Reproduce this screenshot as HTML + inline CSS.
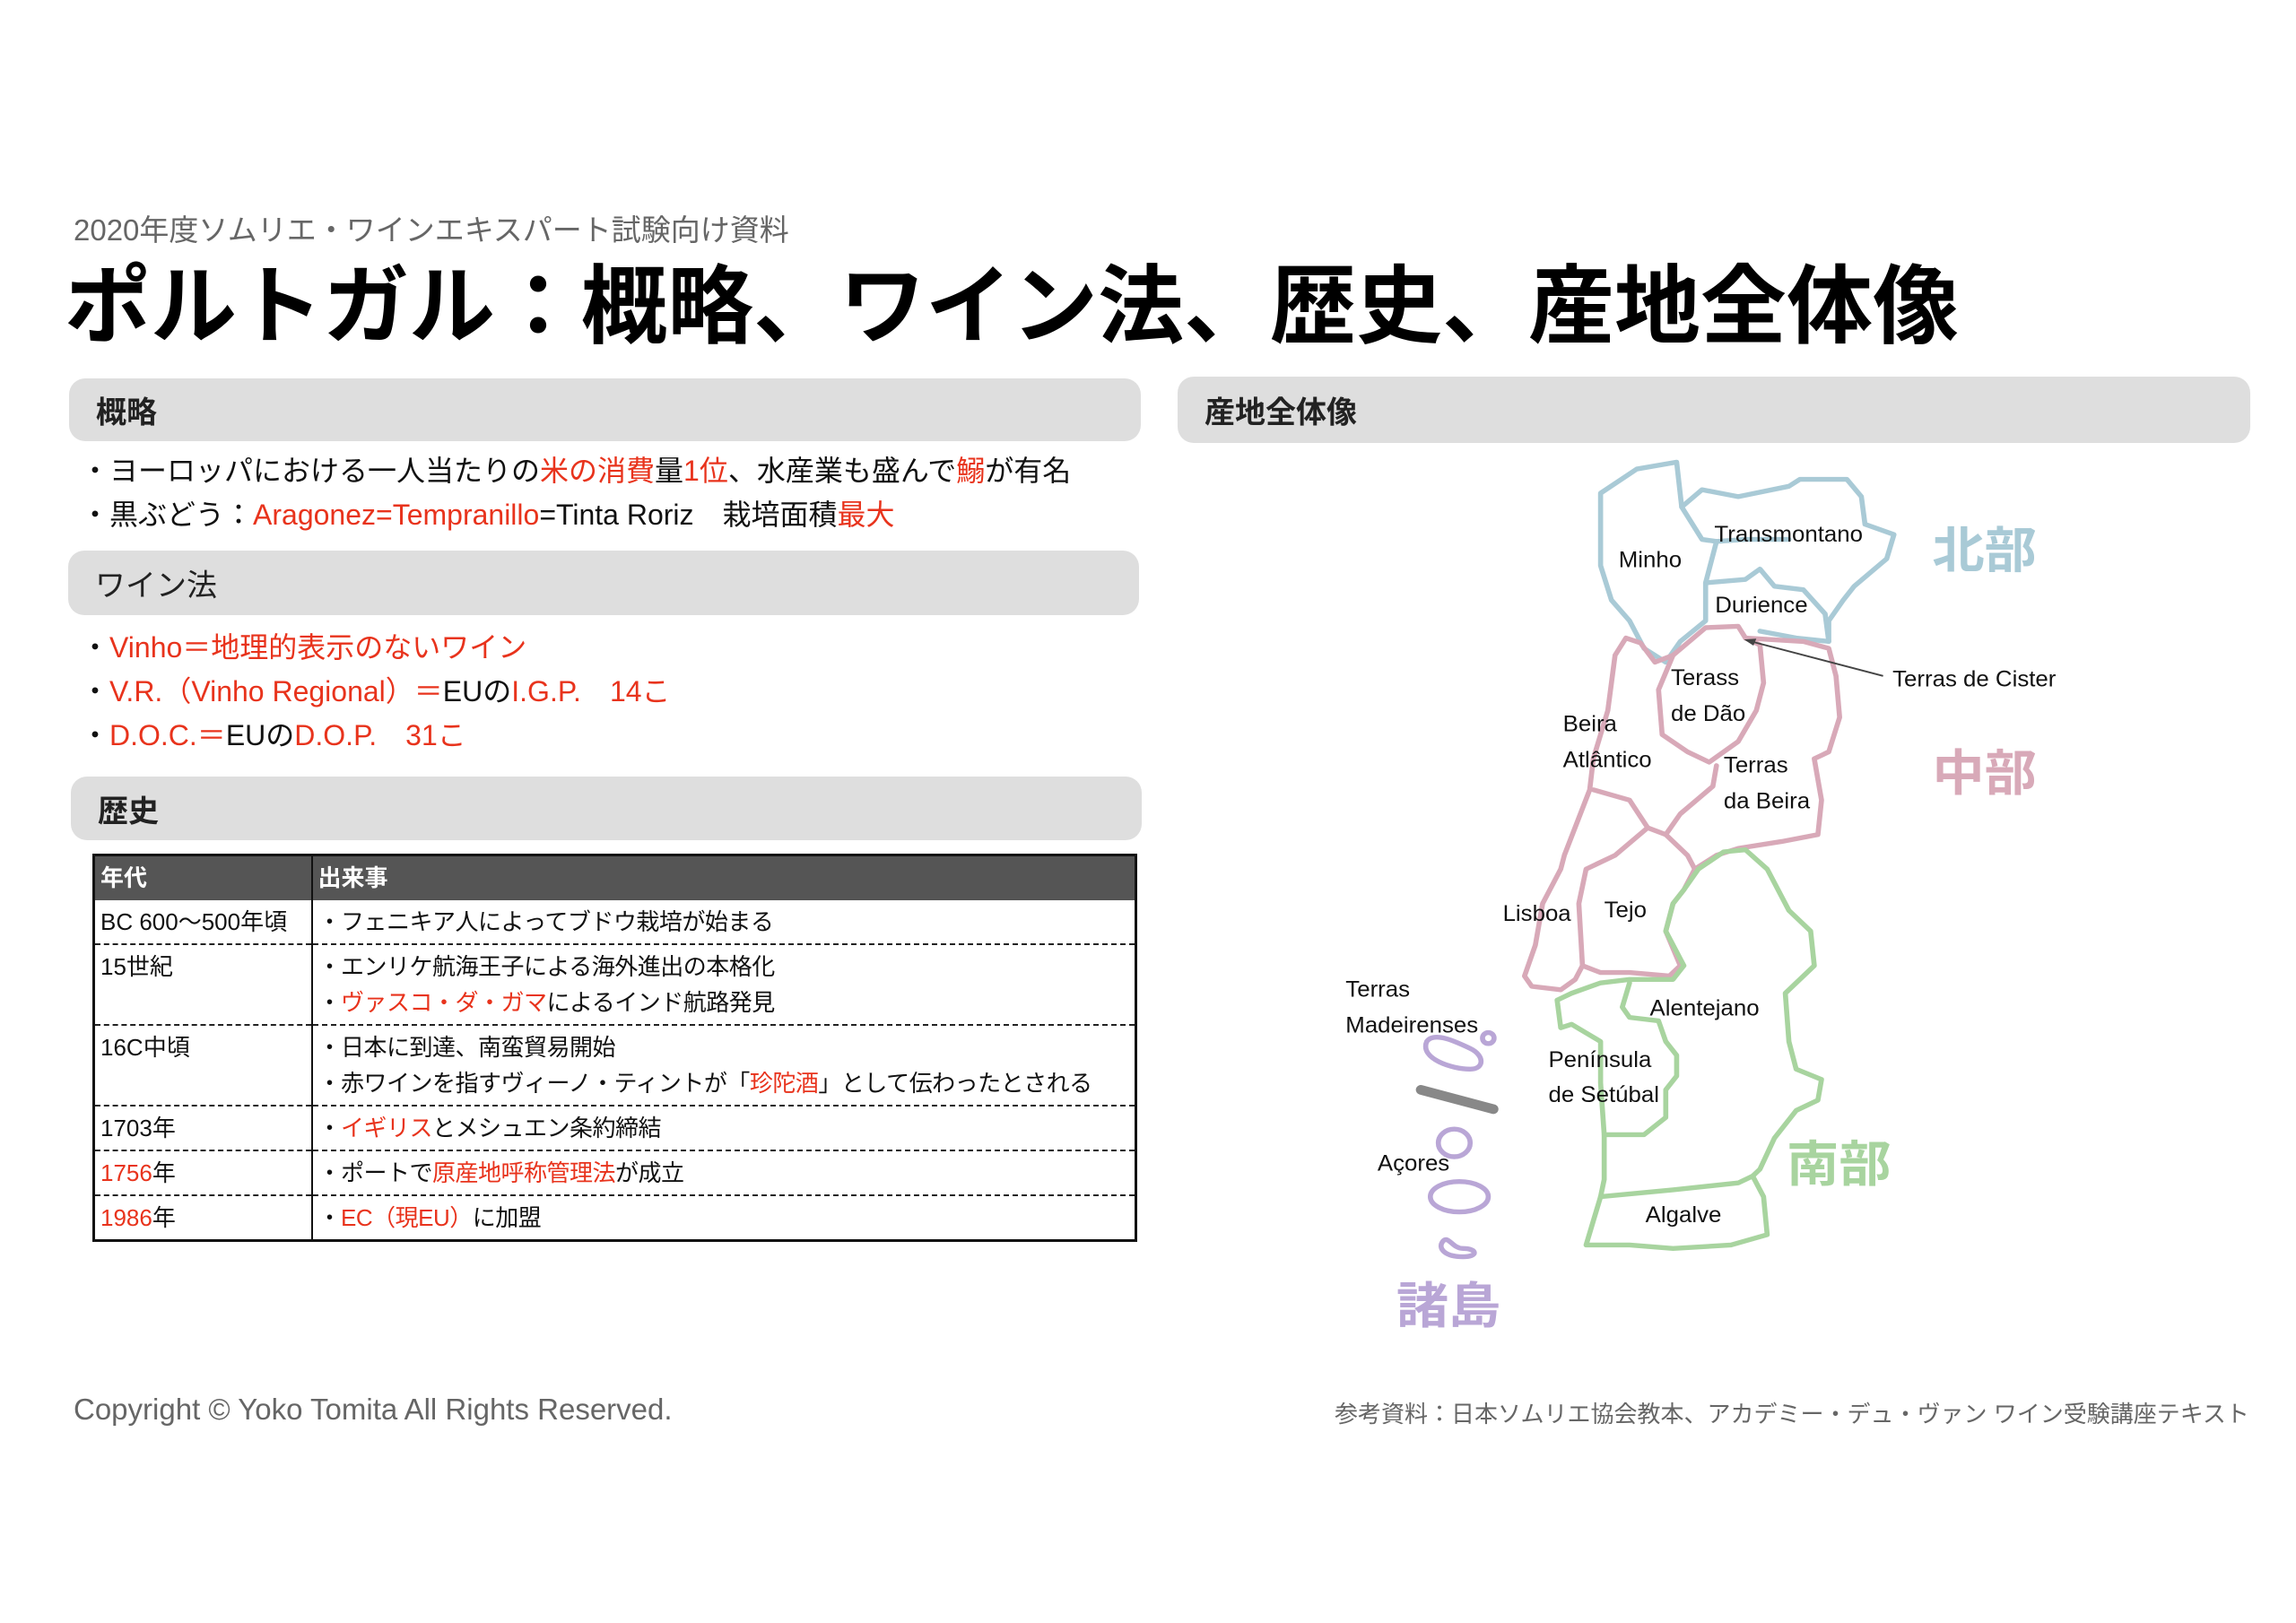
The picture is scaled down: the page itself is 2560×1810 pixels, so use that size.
<!DOCTYPE html>
<html><head><meta charset="utf-8"><style>
*{margin:0;padding:0;box-sizing:border-box}
body{width:2560px;height:1810px;background:#fff;position:relative;overflow:hidden;font-family:"Liberation Sans","Noto Sans CJK JP",sans-serif;color:#111}
.a{position:absolute;white-space:nowrap}
.r{color:#e8331c}
.bar{position:absolute;background:#dedede;border-radius:18px}
.bar span{position:absolute;left:30px;top:50%;transform:translateY(-50%);font-weight:bold;font-size:34px;color:#222}
.l{font-size:32px;line-height:32px}
table{position:absolute;left:103px;top:952px;width:1165px;border-collapse:collapse;font-size:26px;border:3px solid #111}
td{vertical-align:top;padding:4px 6px;line-height:40px;white-space:nowrap}
td.c1{width:243px;border-right:2px solid #111}
td.c2{letter-spacing:-0.5px}
tr.h td{background:#555;color:#fff;font-weight:bold;height:50px;padding:4px 6px}
tr.b td{border-top:2px dashed #222}
</style></head><body>
<div class="a" style="left:82px;top:230px;font-size:33px;color:#666">2020年度ソムリエ・ワインエキスパート試験向け資料</div>
<div class="a" style="left:72px;top:288px;font-size:96px;font-weight:bold;line-height:110px;color:#000">ポルトガル：概略、ワイン法、歴史、産地全体像</div>

<div class="bar" style="left:77px;top:422px;width:1195px;height:70px"><span>概略</span></div>
<div class="a l" style="left:90px;top:509px">・ヨーロッパにおける一人当たりの<span class="r">米の消費</span>量<span class="r">1位</span>、水産業も盛んで<span class="r">鰯</span>が有名</div>
<div class="a l" style="left:90px;top:558px">・黒ぶどう：<span class="r">Aragonez=Tempranillo</span>=Tinta Roriz　栽培面積<span class="r">最大</span></div>

<div class="bar" style="left:76px;top:614px;width:1194px;height:72px"><span style="font-weight:normal">ワイン法</span></div>
<div class="a l r" style="left:90px;top:706px"><span style="color:#111">・</span>Vinho＝地理的表示のないワイン</div>
<div class="a l r" style="left:90px;top:755px"><span style="color:#111">・</span>V.R.（Vinho Regional）＝<span style="color:#111">EUの</span>I.G.P.　14こ</div>
<div class="a l r" style="left:90px;top:804px"><span style="color:#111">・</span>D.O.C.＝<span style="color:#111">EUの</span>D.O.P.　31こ</div>

<div class="bar" style="left:79px;top:866px;width:1194px;height:71px"><span>歴史</span></div>
<table>
<tr class="h"><td class="c1">年代</td><td>出来事</td></tr>
<tr><td class="c1">BC 600〜500年頃</td><td class="c2">・フェニキア人によってブドウ栽培が始まる</td></tr>
<tr class="b"><td class="c1">15世紀</td><td class="c2">・エンリケ航海王子による海外進出の本格化<br>・<span class="r">ヴァスコ・ダ・ガマ</span>によるインド航路発見</td></tr>
<tr class="b"><td class="c1">16C中頃</td><td class="c2">・日本に到達、南蛮貿易開始<br>・赤ワインを指すヴィーノ・ティントが「<span class="r">珍陀酒</span>」として伝わったとされる</td></tr>
<tr class="b"><td class="c1">1703年</td><td class="c2">・<span class="r">イギリス</span>とメシュエン条約締結</td></tr>
<tr class="b"><td class="c1"><span class="r">1756</span>年</td><td class="c2">・ポートで<span class="r">原産地呼称管理法</span>が成立</td></tr>
<tr class="b"><td class="c1"><span class="r">1986</span>年</td><td class="c2">・<span class="r">EC（現EU）</span>に加盟</td></tr>
</table>

<div class="a" style="left:82px;top:1553px;font-size:33px;color:#666">Copyright © Yoko Tomita All Rights Reserved.</div>
<div class="a" style="left:1488px;top:1557px;font-size:26px;color:#666">参考資料：日本ソムリエ協会教本、アカデミー・デュ・ヴァン ワイン受験講座テキスト</div>

<div class="bar" style="left:1313px;top:420px;width:1196px;height:74px"><span>産地全体像</span></div>

<svg class="a" style="left:1300px;top:400px" width="1260" height="1200" viewBox="0 0 1560 1560" preserveAspectRatio="none">
<g fill="none" stroke-width="7" stroke-linejoin="round" stroke-linecap="round">
<g stroke="#a9cad6">
<path d="M600,195 L650,160 L705,150 L712,215 L740,262 L760,265 L745,325 L745,380 L710,410 L690,440 L660,420 L640,380 L615,350 L600,300 Z"/>
<path d="M712,215 L740,190 L790,200 L860,185 L875,175 L940,175 L960,200 L965,240 L1005,255 L995,290 L950,330 L935,350 L915,380 L915,410 L870,405 L820,395"/>
<path d="M745,325 L800,320 L820,305 L840,330 L880,335 L910,370 L915,410"/>
<path d="M760,265 L800,262 L860,262"/>
</g>
<g stroke="#d8a9b8">
<path d="M700,430 L745,390 L790,388 L800,405 L820,415 L825,470 L815,510 L790,555 L750,585 L720,570 L685,545 L680,480 Z"/>
<path d="M800,405 L880,410 L915,420 L925,460 L930,520 L915,570 L895,580 L905,640 L900,690 L850,700 L790,710 L760,720 L730,740 L715,770 L700,790 L690,830 L710,880 L695,895 L640,890 L600,890 L575,880 L565,900 L545,915 L505,910 L495,895 L510,850 L520,790 L545,740 L550,720 L585,625 L590,580 L610,510 L620,430 L635,405 L655,412 L675,440 L700,430"/>
<path d="M590,625 L640,640 L665,680 L620,720 L580,740 L570,790 L575,880"/>
<path d="M665,680 L690,690 L710,660 L755,620 L760,590"/>
<path d="M690,690 L720,720 L730,740"/>
</g>
<g stroke="#a8d49f">
<path d="M735,740 L770,715 L800,712 L830,740 L860,800 L890,830 L895,880 L855,920 L860,990 L870,1030 L905,1045 L900,1075 L870,1090 L840,1130 L820,1175 L810,1185 L825,1215 L830,1270 L780,1285 L700,1290 L640,1285 L580,1285 L590,1250 L600,1215 L605,1190 L605,1125 L600,1050 L600,990 L560,965 L545,970 L540,930 L560,920 L600,905 L640,900 L700,900 L715,880 L690,830 L700,790 L715,770 Z"/>
<path d="M640,905 L630,940 L640,955 L680,960 L690,990 L705,1010 L705,1040 L690,1060 L690,1100 L660,1125 L605,1125"/>
<path d="M600,1215 L700,1205 L790,1195 L810,1185"/>
</g>
<g stroke="#b9a6d6">
<path d="M360,990 C370,975 400,990 420,1000 C440,1010 440,1030 420,1030 C395,1030 350,1015 360,990 Z"/>
<circle cx="445" cy="985" r="8"/>
<ellipse cx="398" cy="1137" rx="22" ry="20"/>
<ellipse cx="405" cy="1215" rx="40" ry="22"/>
<path d="M382,1280 C390,1270 395,1290 410,1290 C430,1290 432,1302 410,1302 C385,1302 375,1290 382,1280 Z"/>
</g>
<path d="M352,1060 L452,1088" stroke="#888" stroke-width="14"/>
</g>
<path d="M990,460 L808,410" stroke="#444" stroke-width="2.5"/>
<path d="M798,407 L815,406 L811,416 Z" fill="#444"/>
<g font-family="Liberation Sans, Noto Sans CJK JP, sans-serif" font-size="32" fill="#111">
<text x="625" y="302">Minho</text>
<text x="757" y="265">Transmontano</text>
<text x="758" y="368">Durience</text>
<text x="1003" y="475">Terras de Cister</text>
<text x="697" y="473">Terass</text>
<text x="697" y="525">de Dão</text>
<text x="548" y="540">Beira</text>
<text x="548" y="592">Atlântico</text>
<text x="770" y="600">Terras</text>
<text x="770" y="652">da Beira</text>
<text x="465" y="815">Lisboa</text>
<text x="605" y="810">Tejo</text>
<text x="248" y="925">Terras</text>
<text x="248" y="977">Madeirenses</text>
<text x="668" y="952">Alentejano</text>
<text x="528" y="1027">Península</text>
<text x="528" y="1078">de Setúbal</text>
<text x="292" y="1177">Açores</text>
<text x="662" y="1252">Algalve</text>
</g>
<g font-family="Liberation Sans, Noto Sans CJK JP, sans-serif" font-size="72" font-weight="bold">
<text x="1058" y="303" fill="#a9cad6">北部</text>
<text x="1058" y="626" fill="#d8a9b8">中部</text>
<text x="857" y="1193" fill="#a8d49f">南部</text>
<text x="318" y="1398" fill="#b9a6d6">諸島</text>
</g>
</svg>
</body></html>
